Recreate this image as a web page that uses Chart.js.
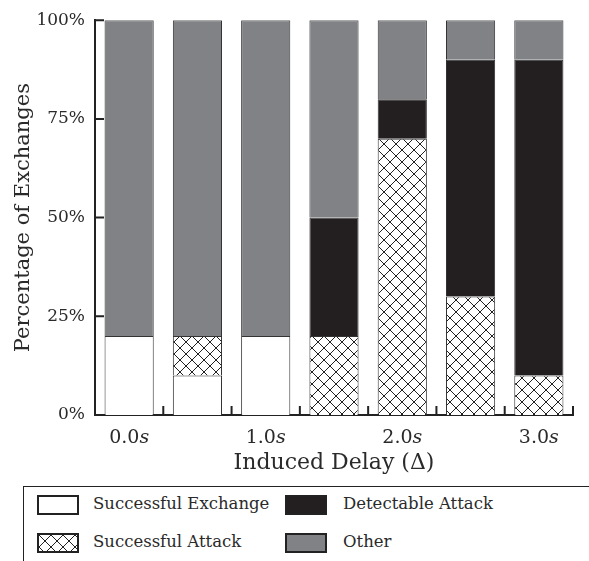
<!DOCTYPE html>
<html>
<head>
<meta charset="utf-8">
<script src="https://cdn.jsdelivr.net/npm/chart.js@4/dist/chart.umd.min.js"></script>
<style>
  body { margin: 0; background: #fff; font-family: "DejaVu Serif", serif; }
  #wrap { position: relative; width: 589px; height: 480px; }
  #legend { position: absolute; left: 23px; top: 486px; width: 600px; height: 100px;
            border: 1.5px solid #222; box-sizing: border-box; }
  .item { position: absolute; font-size: 16.5px; color: #2a2a2a; line-height: 20px; }
  .sw { position: absolute; width: 38px; height: 16px; border: 2px solid #222; }
</style>
</head>
<body>
<div id="wrap"><canvas id="chart"></canvas></div>
<div id="legend">
  <div class="sw" style="left:13px;top:8px;background:#fff"></div>
  <div class="item" style="left:69px;top:7px">Successful Exchange</div>
  <div class="sw" style="left:261px;top:8px;background:#231f20"></div>
  <div class="item" style="left:319px;top:7px">Detectable Attack</div>
  <div class="sw" id="hatchSw" style="left:13px;top:46px"></div>
  <div class="item" style="left:69px;top:45px">Successful Attack</div>
  <div class="sw" style="left:261px;top:46px;background:#808285"></div>
  <div class="item" style="left:319px;top:45px">Other</div>
</div>
<script>
const delays = ['0.0', '0.5', '1.0', '1.5', '2.0', '2.5', '3.0'];
const shownDelays = ['0.0', '1.0', '2.0', '3.0'];
const successfulExchange = [20, 10, 20, 0, 0, 0, 0];
const successfulAttack = [0, 10, 0, 20, 70, 30, 10];
const detectableAttack = [0, 0, 0, 30, 10, 60, 80];
const other = [80, 80, 80, 50, 20, 10, 10];
const yTicks = [0, 25, 50, 75, 100];

function makeHatch() {
    const c = document.createElement('canvas');
    c.width = 12; c.height = 12;
    const g = c.getContext('2d');
    g.fillStyle = '#fff';
    g.fillRect(0, 0, 12, 12);
    g.strokeStyle = '#222';
    g.lineWidth = 1;
    g.beginPath();
    g.moveTo(0, 0); g.lineTo(12, 12);
    g.moveTo(12, 0); g.lineTo(0, 12);
    g.stroke();
    return c;
}
const hatchCanvas = makeHatch();
const ctx = document.getElementById('chart').getContext('2d');
const hatch = ctx.createPattern(hatchCanvas, 'repeat');
document.getElementById('hatchSw').style.background = 'url(' + hatchCanvas.toDataURL() + ')';

const axisTicks = {
    id: 'axisTicks',
    afterDraw(chart) {
        const c = chart.ctx;
        const x = chart.scales.x, y = chart.scales.y;
        c.save();
        c.strokeStyle = '#222';
        c.lineWidth = 2;
        c.beginPath();
        yTicks.forEach(v => {
            const py = y.getPixelForValue(v);
            c.moveTo(x.left, py); c.lineTo(x.left + 9, py);
        });
        const w = (x.right - x.left) / delays.length;
        for (let i = 1; i <= delays.length; i++) {
            const px = x.left + i * w;
            c.moveTo(px, y.bottom); c.lineTo(px, y.bottom - 9);
        }
        c.stroke();
        c.fillStyle = '#2a2a2a';
        c.textBaseline = 'middle';
        const norm = '19px "DejaVu Serif"', ital = 'italic 19px "DejaVu Serif"';
        delays.forEach((d, i) => {
            if (!shownDelays.includes(d)) return;
            const px = x.getPixelForValue(i);
            c.font = norm;
            const w1 = c.measureText(d).width;
            c.font = ital;
            const w2 = c.measureText('s').width;
            const start = px - (w1 + w2) / 2;
            c.font = norm;
            c.textAlign = 'left';
            c.fillText(d, start, y.bottom + 23);
            c.font = ital;
            c.fillText('s', start + w1, y.bottom + 23);
        });
        c.restore();
    }
};

const common = { borderColor: '#333', borderWidth: 1, barPercentage: 0.72, categoryPercentage: 1 };

new Chart(ctx, {
    type: 'bar',
    data: {
        labels: delays,
        datasets: [
            Object.assign({ label: 'Successful Exchange', data: successfulExchange, backgroundColor: '#ffffff' }, common),
            Object.assign({ label: 'Successful Attack', data: successfulAttack, backgroundColor: hatch }, common),
            Object.assign({ label: 'Detectable Attack', data: detectableAttack, backgroundColor: '#231f20' }, common),
            Object.assign({ label: 'Other', data: other, backgroundColor: '#808285' }, common)
        ]
    },
    options: {
        responsive: true,
        maintainAspectRatio: false,
        animation: false,
        layout: { padding: { top: 17, right: 16, left: 0, bottom: 0 } },
        plugins: { legend: { display: false }, tooltip: { enabled: false } },
        scales: {
            x: {
                stacked: true,
                grid: { display: false, drawTicks: false },
                border: { display: true, width: 2, color: '#222' },
                ticks: { display: false },
                title: { display: true, text: 'Induced Delay (Δ)', color: '#2a2a2a',
                         font: { family: 'DejaVu Serif', size: 22 }, padding: { top: 0 } },
                afterFit(scale) { scale.height = 65; }
            },
            y: {
                stacked: true,
                min: 0,
                max: 100,
                grid: { display: false, drawTicks: false },
                border: { display: true, width: 2, color: '#222' },
                ticks: {
                    stepSize: 25,
                    padding: 10,
                    color: '#2a2a2a',
                    font: { family: 'DejaVu Serif', size: 17 },
                    callback: v => v + '%'
                },
                title: { display: true, text: 'Percentage of Exchanges', color: '#2a2a2a',
                         font: { family: 'DejaVu Serif', size: 21 }, padding: { top: 11, bottom: 0 } },
                afterFit(scale) { scale.width = 95; }
            }
        }
    },
    plugins: [axisTicks]
});
</script>
</body>
</html>
